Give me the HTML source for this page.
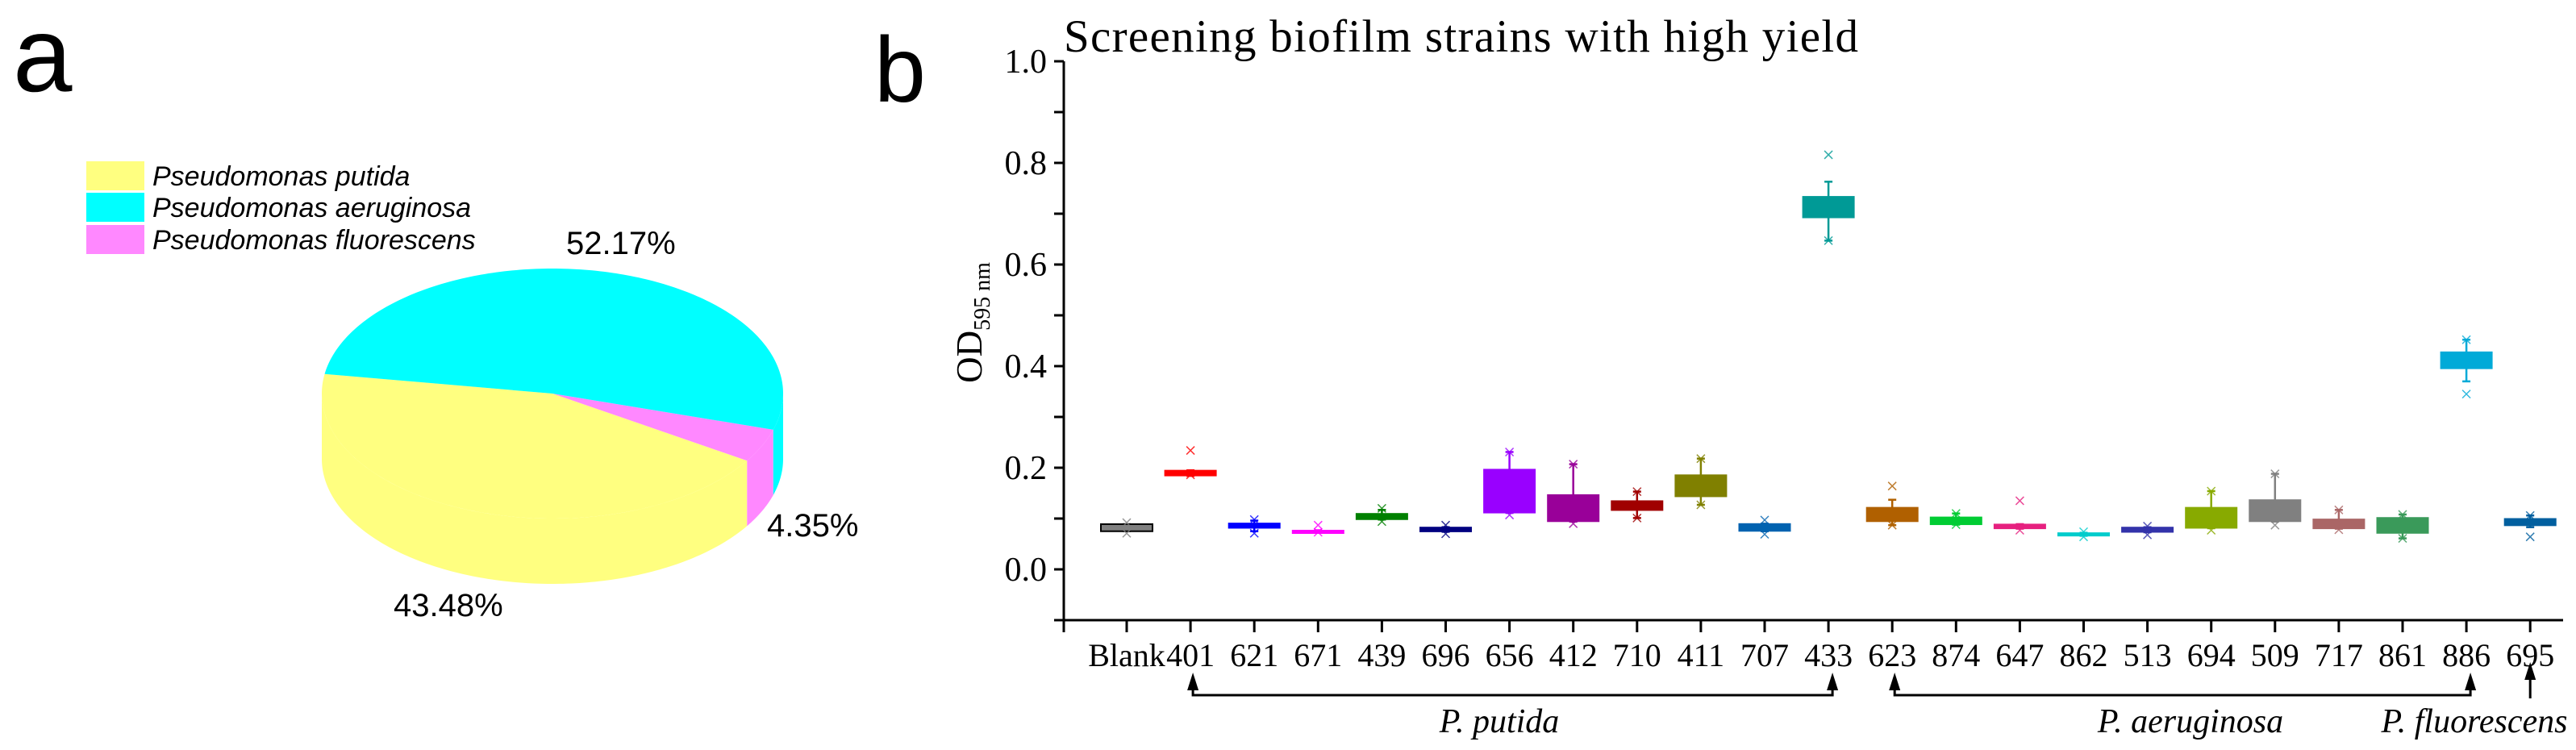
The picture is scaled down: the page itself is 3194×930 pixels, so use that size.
<!DOCTYPE html>
<html><head><meta charset="utf-8"><style>
html,body{margin:0;padding:0;background:#fff}
svg{display:block}
</style></head><body>
<svg id="fig" width="3194" height="930" viewBox="0 0 3194 930" xmlns="http://www.w3.org/2000/svg">
<rect width="3194" height="930" fill="#fff"/>
<text x="16" y="113" font-family="Liberation Sans, sans-serif" font-size="132">a</text>
<text x="1084" y="126" font-family="Liberation Sans, sans-serif" font-size="115">b</text>
<g id="pie"></g>
<g id="legend"></g>
<g id="box"></g>
</svg>
<script>
const NS='http://www.w3.org/2000/svg';
// ---- pie data ----
const pieLabels=['Pseudomonas putida','Pseudomonas aeruginosa','Pseudomonas fluorescens'];
const pieValues=[43.48,52.17,4.35];
const pieColors=['#ffff80','#00ffff','#ff88ff'];
// ---- box data ----
const categories=['Blank','401','621','671','439','696','656','412','710','411','707','433','623','874','647','862','513','694','509','717','861','886','695'];
const boxHigh=[0.089,0.195,0.091,0.077,0.110,0.083,0.197,0.147,0.135,0.186,0.090,0.734,0.122,0.103,0.089,0.072,0.083,0.122,0.137,0.099,0.102,0.428,0.100];
const boxLow=[0.075,0.184,0.081,0.073,0.098,0.074,0.111,0.094,0.116,0.143,0.075,0.692,0.094,0.088,0.080,0.066,0.073,0.081,0.094,0.080,0.071,0.395,0.086];
const whiskHigh=[0.089,0.195,0.096,0.077,0.117,0.083,0.231,0.207,0.153,0.218,0.090,0.763,0.137,0.110,0.089,0.072,0.083,0.154,0.188,0.117,0.108,0.452,0.106];
const whiskLow=[0.075,0.184,0.075,0.073,0.098,0.074,0.111,0.094,0.101,0.127,0.075,0.647,0.087,0.088,0.080,0.066,0.073,0.081,0.094,0.080,0.061,0.370,0.083];
const outHigh=[0.092,0.234,0.098,0.087,0.120,0.087,0.231,0.207,0.153,0.218,0.097,0.816,0.164,0.110,0.135,0.074,0.085,0.154,0.188,0.117,0.108,0.452,0.106];
const outLow=[0.071,0.186,0.071,0.073,0.094,0.070,0.107,0.090,0.101,0.127,0.069,0.647,0.087,0.088,0.077,0.064,0.068,0.077,0.087,0.078,0.061,0.345,0.064];
const boxColors=['#808080','#ff0000','#0000ff','#ff00ff','#008000','#000080','#9900ff','#990099','#a00000','#808000','#0062b0','#009a96','#b06000','#00cc33','#e6207f','#00cccc','#3333aa','#88aa00','#808080','#aa6666','#3a9a5a','#00aad8','#005f9f'];
const yTicks=[0.0,0.2,0.4,0.6,0.8,1.0];
const yTickLabels=['0.0','0.2','0.4','0.6','0.8','1.0'];
const groups=[{label:'P. putida',from:1,to:11,lx:1859},{label:'P. aeruginosa',from:12,to:21,lx:2716}];

function el(tag,attrs,parent){const e=document.createElementNS(NS,tag);for(const k in attrs)e.setAttribute(k,attrs[k]);parent.appendChild(e);return e;}

// ---- PIE ----
(function(){
  const g=document.getElementById('pie');
  const cx=685,cy=488,rx=286,ry=155,depth=81;
  const total=pieValues.reduce((a,b)=>a+b,0);
  const startDeg=189; // yellow starts here going backward
  // angles: yellow from 189 downward to 189-156.5
  const ranges=[];let a=startDeg;
  // order: putida (yellow) going decreasing angle, then fluorescens, then aeruginosa
  const order=[0,2,1];
  order.forEach(i=>{const sweep=pieValues[i]/total*360;ranges[i]=[a-sweep,a];a-=sweep;});
  const pt=(t,dy)=>[cx+rx*Math.cos(t*Math.PI/180),cy+ry*Math.sin(t*Math.PI/180)+(dy||0)];
  function arcPts(t0,t1,dy){const p=[];const n=Math.max(4,Math.ceil(Math.abs(t1-t0)));for(let k=0;k<=n;k++){p.push(pt(t0+(t1-t0)*k/n,dy));}return p;}
  // sides (front visible: 0..180)
  order.forEach(i=>{
    let [t0,t1]=ranges[i];
    // normalise into [-180,180+]
    const segs=[[t0,t1]];
    segs.forEach(([s,e])=>{
      const lo=Math.max(s,0),hi=Math.min(e,180);
      if(hi>lo){
        const top=arcPts(lo,hi,0),bot=arcPts(hi,lo,depth);
        const d='M'+top.map(p=>p.join(',')).join('L')+'L'+bot.map(p=>p.join(',')).join('L')+'Z';
        const s2=el('path',{d:d,fill:pieColors[i]},g);
        
        
      }
    });
  });
  order.forEach(i=>{
    const [t0,t1]=ranges[i];
    const p=arcPts(t0,t1,0);
    const d='M'+cx+','+cy+'L'+p.map(q=>q.join(',')).join('L')+'Z';
    const s=el('path',{d:d,fill:pieColors[i]},g);
    
    
  });
  const labPos=[[488,764],[702,315],[951,665]];
  pieValues.forEach((v,i)=>{
    const t=el('text',{x:labPos[i][0],y:labPos[i][1],'font-family':'Liberation Sans, sans-serif','font-size':40},g);
    t.textContent=v.toFixed(2)+'%';
    
    
  });
  const lg=document.getElementById('legend');
  const rowsY=[200,239,279];
  pieLabels.forEach((l,i)=>{
    const r=el('rect',{x:107,y:rowsY[i],width:72,height:36,fill:pieColors[i]},lg);
    
    
    const t=el('text',{x:189,y:rowsY[i]+30,'font-family':'Liberation Sans, sans-serif','font-size':34,'font-style':'italic'},lg);
    t.textContent=l;
    
    
  });
})();

// ---- BOX CHART ----
(function(){
  const g=document.getElementById('box');
  const x0=1319,xEnd=3178,yZero=706,pxPer=630,x1st=1397,step=79.1,bw=64;
  const Y=v=>yZero-v*pxPer;
  const X=i=>x1st+i*step;
  const yBot=Y(-0.1),yTop=Y(1.0);
  const title=el('text',{x:1319,y:64,'font-family':'Liberation Serif, serif','font-size':57,textLength:985},g);
  title.textContent='Screening biofilm strains with high yield';
  
  
  const ax=el('path',{d:`M${x0},${yTop}V${yBot}H${xEnd}`,stroke:'#000','stroke-width':3,fill:'none'},g);
  
  
  for(let k=-1;k<=10;k++){
    const tk=el('line',{x1:x0-12,x2:x0,y1:Y(k/10),y2:Y(k/10),stroke:'#000','stroke-width':3},g);
    
    
  }
  yTicks.forEach((v,i)=>{
    const t=el('text',{x:1298,y:Y(v)+14,'text-anchor':'end','font-family':'Liberation Serif, serif','font-size':42},g);
    t.textContent=yTickLabels[i];
    
    
  });
  const yl=el('text',{x:0,y:0,transform:'translate(1217,400) rotate(-90)','text-anchor':'middle','font-family':'Liberation Serif, serif','font-size':45},g);
  yl.innerHTML='OD<tspan font-size="28" dy="10">595 nm</tspan>';
  
  
  const t0=el('line',{x1:x0,x2:x0,y1:yBot,y2:yBot+15,stroke:'#000','stroke-width':3},g);
  
  
  categories.forEach((c,i)=>{
    const xc=X(i);
    const tk=el('line',{x1:xc,x2:xc,y1:yBot,y2:yBot+15,stroke:'#000','stroke-width':3},g);
    
    
    const lb=el('text',{x:xc,y:826,'text-anchor':'middle','font-family':'Liberation Serif, serif','font-size':40},g);
    lb.textContent=c;
    
    
    const col=boxColors[i];
    const wh=el('line',{x1:xc,x2:xc,y1:Y(whiskHigh[i]),y2:Y(whiskLow[i]),stroke:col,'stroke-width':2.5},g);
    
    
    [whiskHigh[i],whiskLow[i]].forEach(v=>{
      const cap=el('line',{x1:xc-5,x2:xc+5,y1:Y(v),y2:Y(v),stroke:col,'stroke-width':2.5},g);
      
      
    });
    const h=Math.max(4,Y(boxLow[i])-Y(boxHigh[i]));
    const b=el('rect',{x:xc-bw/2,y:Y(boxHigh[i]),width:bw,height:h,fill:col,stroke:i===0?'#000':col,'stroke-width':i===0?2:1},g);
    
    
    [outHigh[i],outLow[i]].forEach(v=>{
      const yy=Y(v);
      const m=el('path',{d:`M${xc-5},${yy-5}L${xc+5},${yy+5}M${xc-5},${yy+5}L${xc+5},${yy-5}`,stroke:col,'stroke-width':1.5,opacity:0.8},g);
      
      
    });
  });
  function arrowHead(x,y){
    const a=el('path',{d:`M${x},${y}L${x-7},${y+22}L${x+7},${y+22}Z`,fill:'#000'},g);
    
    
  }
  groups.forEach(gr=>{
    const xa=X(gr.from)+3,xb=X(gr.to)+5,yb=862,yt=834;
    const p=el('path',{d:`M${xa},${yt+10}V${yb}H${xb}V${yt+10}`,stroke:'#000','stroke-width':3,fill:'none'},g);
    
    
    arrowHead(xa,yt);arrowHead(xb,yt);
    const t=el('text',{x:gr.lx,y:908,'text-anchor':'middle','font-family':'Liberation Serif, serif','font-size':42,'font-style':'italic'},g);
    t.textContent=gr.label;
    
    
  });
  const xf=X(22);
  const fl=el('line',{x1:xf,x2:xf,y1:842,y2:866,stroke:'#000','stroke-width':3},g);
  
  
  arrowHead(xf,821);
  const tf=el('text',{x:3068,y:908,'text-anchor':'middle','font-family':'Liberation Serif, serif','font-size':42,'font-style':'italic'},g);
  tf.textContent='P. fluorescens';
  
  
})();
</script>
</body></html>
